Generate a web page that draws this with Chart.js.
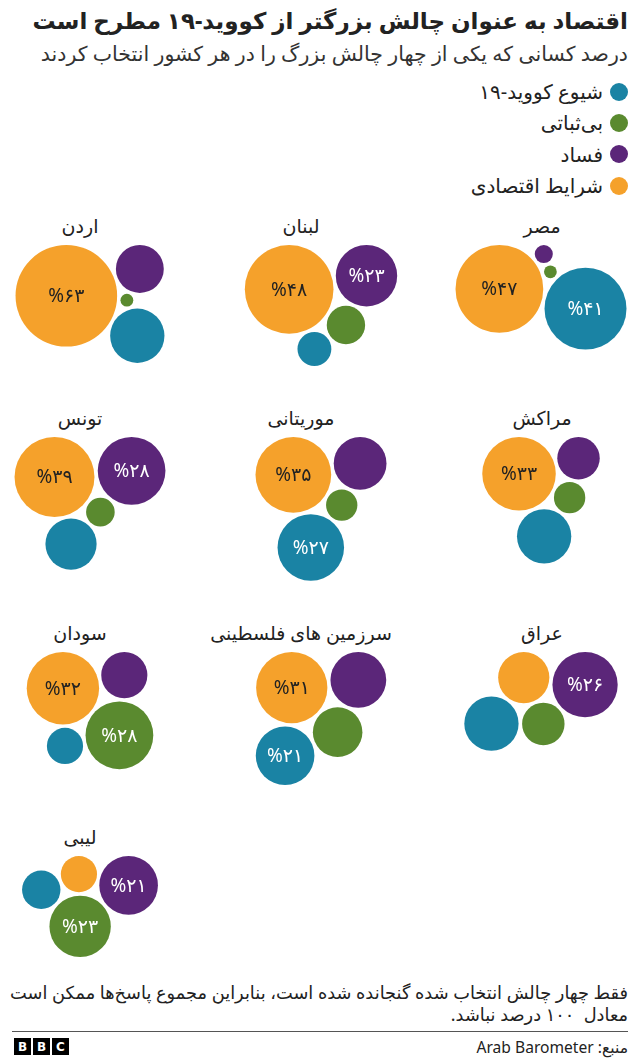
<!DOCTYPE html>
<html lang="fa">
<head>
<meta charset="utf-8">
<script src="https://cdn.jsdelivr.net/npm/chart.js@4.4.1/dist/chart.umd.min.js"></script>
<style>
  body { margin: 0; background: #fff; font-family: "Noto Sans", "DejaVu Sans", sans-serif; color: #222; }
  #page { position: relative; width: 640px; height: 1062px; overflow: hidden; }
  .rtl { position: absolute; direction: rtl; text-align: right; right: 12px; white-space: nowrap; }
  #title { top: 3px; font-size: 23px; line-height: 34px; font-weight: bold; }
  #subtitle { top: 40px; font-size: 20.5px; line-height: 26px; color: #333; }
  #legend { top: 76px; font-size: 20px; }
  #legend div { height: 31.3px; line-height: 31px; display: flex; align-items: center; }
  #legend span.dot { width: 18px; height: 18px; border-radius: 50%; margin-left: 7px; display: inline-block; }
  .ptitle { position: absolute; width: 220px; text-align: center; font-size: 19px; line-height: 24px; direction: rtl; white-space: nowrap; }
  canvas { position: absolute; }
  #note { top: 981px; font-size: 17.8px; line-height: 22px; }
  #rule { position: absolute; left: 12px; right: 12px; top: 1031px; height: 1px; background: #555; }
  #source { top: 1037px; font-size: 15.6px; line-height: 20px; color: #222; }
  #bbc { position: absolute; left: 14px; top: 1038px; display: flex; gap: 2px; }
  #bbc span { width: 17px; height: 17px; background: #000; color: #fff; font: bold 12px "DejaVu Sans", sans-serif; display: flex; align-items: center; justify-content: center; }
</style>
</head>
<body>
<div id="page">
  <div id="title" class="rtl">اقتصاد به عنوان چالش بزرگتر از کووید-۱۹ مطرح است</div>
  <div id="subtitle" class="rtl">درصد کسانی که یکی از چهار چالش بزرگ را در هر کشور انتخاب کردند</div>
  <div id="legend" class="rtl"></div>
  <div id="note" class="rtl">فقط چهار چالش انتخاب شده گنجانده شده است، بنابراین مجموع پاسخ‌ها ممکن است<br>معادل&nbsp; ۱۰۰ درصد نباشد.</div>
  <div id="rule"></div>
  <div id="bbc"><span>B</span><span>B</span><span>C</span></div>
  <div id="source" class="rtl">منبع: Arab Barometer</div>
</div>
<script>
// values (percent of respondents)
const countries = ['مصر', 'لبنان', 'اردن', 'مراکش', 'موریتانی', 'تونس', 'عراق', 'سرزمین های فلسطینی', 'سودان', 'لیبی'];
const covid       = [41,  7, 18, 18, 27, 16, 18, 21,  8,  9];
const instability = [ 1,  9,  1,  6,  6,  5, 11, 15, 28, 23];
const corruption  = [ 2, 23, 14, 11, 17, 28, 26, 19, 13, 21];
const economy     = [47, 48, 63, 33, 35, 39, 16, 31, 32,  8];

const seriesNames = ['شیوع کووید-۱۹', 'بی‌ثباتی', 'فساد', 'شرایط اقتصادی'];
const seriesValues = [covid, instability, corruption, economy];
const seriesColors = ['#1a83a4', '#5a8a2f', '#5b2679', '#f5a12b'];
const labelColors = ['#fff', '#fff', '#fff', '#222'];

// layout: grid slot of each country (row, column from left)
const slotRow = [0, 0, 0, 1, 1, 1, 2, 2, 2, 3];
const slotCol = [2, 1, 0, 2, 1, 0, 2, 1, 0, 0];
const colTitleX = [80, 301, 542];
const colBubbleX = [90, 321, 541];
const FIRST_TOP = 245, ROW_GAP = 71, TITLE_ABOVE = 19;
const PANEL_W = 200, PANEL_H = 170, TOP_PAD = 10;
const SCALE = 6.4;   // radius px per sqrt(percent)
const GAP = 3.5;

const faDigits = n => String(n).replace(/\d/g, d => '۰۱۲۳۴۵۶۷۸۹'[d]);
const radiusOf = v => SCALE * Math.sqrt(v);

// legend
const legend = document.getElementById('legend');
seriesNames.forEach((name, i) => {
  const row = document.createElement('div');
  row.innerHTML = '<span class="dot" style="background:' + seriesColors[i] + '"></span><span>' + name + '</span>';
  legend.appendChild(row);
});

// circle c tangent to a and b, on the clockwise side of a->b
function tangentTo(a, b, r) {
  const dAB = Math.hypot(b.x - a.x, b.y - a.y);
  const dA = a.r + r + GAP, dB = b.r + r + GAP;
  const turn = Math.acos((dAB * dAB + dA * dA - dB * dB) / (2 * dAB * dA));
  const ang = Math.atan2(b.y - a.y, b.x - a.x) + turn;
  return { x: a.x + dA * Math.cos(ang), y: a.y + dA * Math.sin(ang), r: r };
}

// economy and corruption sit on the top line, the rest wrap clockwise round economy
function packCluster(c) {
  const rE = radiusOf(economy[c]), rC = radiusOf(corruption[c]);
  const eco = { x: 0, y: rE, r: rE };
  const d = rE + rC + GAP;
  const cor = { x: Math.sqrt(d * d - (rE - rC) * (rE - rC)), y: rC, r: rC };
  const ins = tangentTo(eco, cor, radiusOf(instability[c]));
  const cov = tangentTo(eco, ins, radiusOf(covid[c]));
  const nodes = [cov, ins, cor, eco]; // series order
  const minX = Math.min(...nodes.map(n => n.x - n.r)), maxX = Math.max(...nodes.map(n => n.x + n.r));
  const maxY = Math.max(...nodes.map(n => n.y + n.r));
  const shift = PANEL_W / 2 - (minX + maxX) / 2;
  nodes.forEach(n => { n.x += shift; n.y += TOP_PAD; });
  return { nodes: nodes, height: maxY };
}

const clusters = countries.map((_, c) => packCluster(c));
const rowTop = [FIRST_TOP];
for (let r = 1; r <= Math.max(...slotRow); r++) {
  const prev = clusters.filter((_, c) => slotRow[c] === r - 1).map(k => k.height);
  rowTop.push(rowTop[r - 1] + Math.max(...prev) + ROW_GAP);
}

const bubbleLabels = {
  id: 'bubbleLabels',
  afterDatasetsDraw(chart) {
    const ctx = chart.ctx;
    ctx.save();
    ctx.font = '19px "Noto Sans", "DejaVu Sans", sans-serif';
    ctx.textAlign = 'center';
    ctx.textBaseline = 'middle';
    chart.data.datasets.forEach((ds, di) => {
      chart.getDatasetMeta(di).data.forEach((el, i) => {
        const v = ds.data[i].v;
        if (v < 20) return;
        ctx.fillStyle = ds.labelColor;
        ctx.fillText('%' + faDigits(v), el.x, el.y + 1);
      });
    });
    ctx.restore();
  }
};

const page = document.getElementById('page');

countries.forEach((name, c) => {
  const row = slotRow[c], col = slotCol[c];
  const t = document.createElement('div');
  t.className = 'ptitle';
  t.textContent = name;
  t.style.left = (colTitleX[col] - 110) + 'px';
  t.style.top = (rowTop[row] - TITLE_ABOVE - 12) + 'px';
  page.appendChild(t);

  const canvas = document.createElement('canvas');
  canvas.width = PANEL_W;
  canvas.height = PANEL_H;
  canvas.style.left = (colBubbleX[col] - PANEL_W / 2) + 'px';
  canvas.style.top = (rowTop[row] - TOP_PAD) + 'px';
  page.appendChild(canvas);

  const nodes = clusters[c].nodes;
  const datasets = seriesNames.map((label, s) => ({
    label: label,
    data: [{ x: nodes[s].x, y: nodes[s].y, r: nodes[s].r, v: seriesValues[s][c] }],
    backgroundColor: seriesColors[s],
    borderWidth: 0,
    labelColor: labelColors[s],
    clip: false
  }));

  new Chart(canvas, {
    type: 'bubble',
    data: { datasets: datasets },
    options: {
      responsive: false,
      animation: false,
      events: [],
      layout: { padding: 0, autoPadding: false },
      plugins: { legend: { display: false }, tooltip: { enabled: false } },
      scales: {
        x: { type: 'linear', display: false, min: 0, max: PANEL_W },
        y: { type: 'linear', display: false, min: 0, max: PANEL_H, reverse: true }
      }
    },
    plugins: [bubbleLabels]
  });
});
</script>
</body>
</html>
